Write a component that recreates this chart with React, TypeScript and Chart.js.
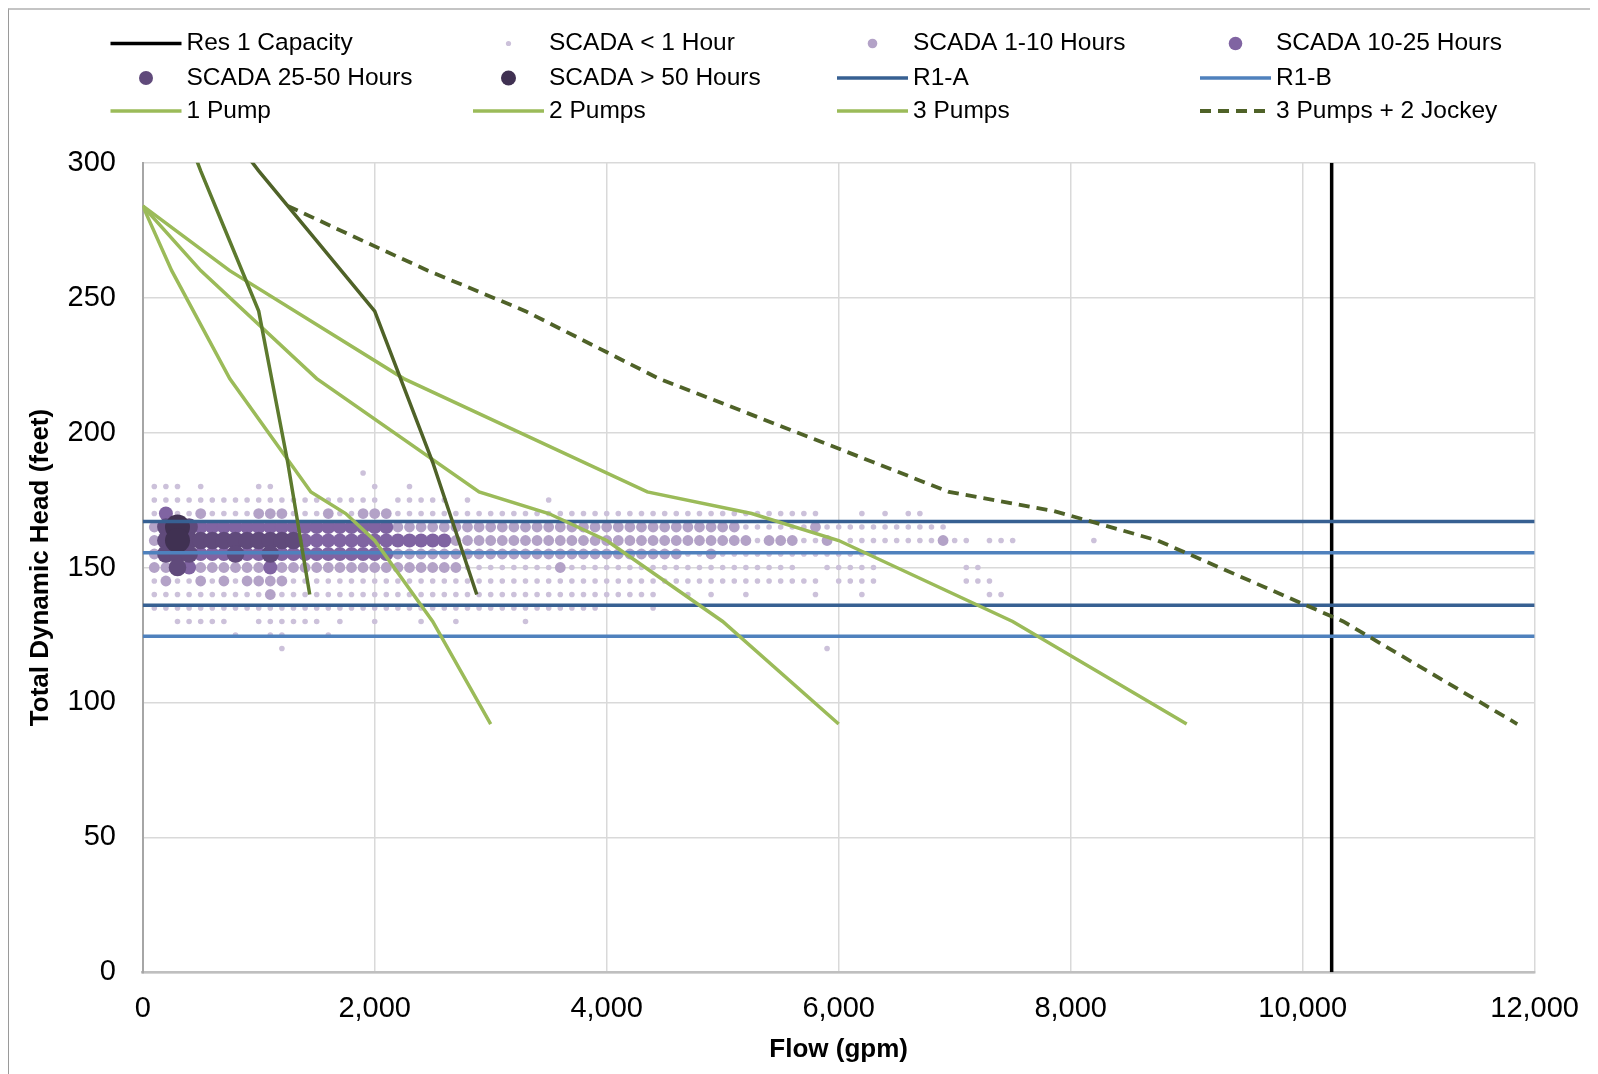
import React, { useEffect, useRef } from 'react';
import { Chart, registerables } from 'chart.js';

Chart.register(...registerables);

// ---------- DATA ----------
const flowTicks = [0, 2000, 4000, 6000, 8000, 10000, 12000];
const headTicks = [0, 50, 100, 150, 200, 250, 300];

const resCapacityFlow = 10250;
const r1aHeads = [167, 136];
const r1bHeads = [155.5, 124.5];

const pumpHead = [284, 260, 220, 178, 170, 160, 130, 92];
const pump1Flow = [0, 250, 750, 1450, 1750, 2000, 2500, 3000];
const pump2Flow = [0, 500, 1500, 2900, 3500, 4000, 5000, 6000];
const pump3Flow = [0, 750, 2250, 4350, 5250, 6000, 7500, 9000];

const jockeyHead = [325, 297, 271, 245, 189, 140];
const jockey1Flow = [250, 500, 750, 1000, 1250, 1440];
const jockey2Flow = [500, 1000, 1500, 2000, 2500, 2880];

const comboFlow = [1250, 1900, 2460, 3300, 4450, 6300, 6950, 7850, 8750, 10350, 11850];
const comboHead = [284, 271, 260, 245, 220, 189, 178, 171, 160, 130, 92];

// SCADA observations: [head (ft), flows in hundreds of gpm]
const scadaUnder1: [number, number[]][] = [
  [185, [19]],
  [180, [1, 2, 3, 5, 10, 11, 20, 23]],
  [175, [1, 2, 3, 4, 5, 6, 7, 8, 9, 10, 11, 12, 13, 14, 15, 16, 17, 18, 19, 20, 22, 23, 24, 25, 26, 28, 35]],
  [170, [1, 3, 4, 6, 7, 8, 9, 13, 14, 15, 17, 18, 22, 23, 24, 25, 26, 27, 28, 29, 30, 31, 32, 33, 34, 35, 36, 37, 38, 39, 40, 41, 42, 43, 44, 45, 46, 47, 48, 49, 50, 51, 52, 53, 54, 55, 56, 57, 58, 62, 64, 66, 67]],
  [165, [52, 53, 54, 55, 56, 57, 59, 60, 61, 62, 63, 64, 65, 66, 67, 68, 69]],
  [160, [53, 57, 58, 61, 62, 63, 64, 65, 66, 67, 68, 70, 71, 73, 74, 75, 82]],
  [155, [47, 48, 50, 51, 52, 53, 54, 55, 56, 57, 58, 59, 60, 61, 62, 63]],
  [150, [28, 29, 30, 31, 32, 33, 34, 35, 37, 38, 39, 40, 41, 42, 43, 44, 45, 46, 47, 48, 49, 50, 51, 52, 53, 54, 55, 56, 59, 60, 61, 62, 63, 71, 72]],
  [145, [1, 3, 4, 6, 8, 13, 14, 15, 16, 17, 18, 19, 20, 21, 22, 23, 24, 25, 26, 27, 28, 29, 30, 31, 32, 33, 34, 35, 36, 37, 38, 39, 40, 41, 42, 43, 44, 45, 46, 47, 48, 49, 50, 51, 52, 53, 54, 55, 56, 57, 58, 60, 61, 62, 63, 71, 72, 73]],
  [140, [1, 2, 3, 4, 5, 6, 7, 8, 9, 10, 12, 13, 14, 15, 16, 17, 18, 19, 20, 21, 22, 23, 24, 25, 26, 27, 28, 29, 30, 31, 32, 33, 34, 35, 36, 37, 38, 39, 40, 41, 42, 43, 44, 47, 49, 52, 58, 62, 73, 74]],
  [135, [1, 2, 3, 4, 5, 6, 7, 8, 9, 10, 11, 12, 13, 14, 15, 16, 17, 18, 19, 20, 21, 22, 23, 24, 25, 26, 27, 28, 29, 30, 31, 32, 33, 34, 35, 36, 37, 38, 39, 44]],
  [130, [3, 4, 5, 6, 7, 10, 11, 12, 13, 14, 15, 17, 20, 24, 27, 33]],
  [125, [8, 11, 12, 16]],
  [120, [12, 59]],
];

const scada1to10: [number, number[]][] = [
  [170, [5, 10, 11, 12, 16, 19, 20, 21]],
  [165, [1, 22, 23, 24, 25, 26, 27, 28, 29, 30, 31, 32, 33, 34, 35, 36, 37, 38, 39, 40, 41, 42, 43, 44, 45, 46, 47, 48, 49, 50, 51, 58]],
  [160, [1, 27, 28, 29, 30, 31, 32, 33, 34, 35, 36, 37, 38, 39, 40, 41, 42, 43, 44, 45, 46, 47, 48, 49, 50, 51, 52, 54, 55, 56, 59, 69]],
  [155, [1, 22, 23, 24, 25, 26, 27, 28, 29, 30, 31, 32, 33, 34, 35, 36, 37, 38, 39, 40, 41, 42, 43, 44, 45, 46, 49]],
  [150, [1, 2, 5, 6, 7, 8, 9, 10, 12, 13, 14, 15, 16, 17, 18, 19, 20, 21, 22, 23, 24, 25, 26, 27, 36]],
  [145, [2, 5, 7, 9, 10, 11, 12]],
  [140, [11]],
];

const scada10to25: [number, number[]][] = [
  [170, [2]],
  [165, [5, 6, 7, 8, 9, 10, 11, 12, 13, 14, 15, 16, 17, 18, 19, 20, 21]],
  [160, [14, 15, 16, 17, 18, 19, 20, 21, 22, 23, 24, 25, 26]],
  [155, [5, 6, 7, 9, 10, 12, 13, 14, 15, 16, 17, 18, 19, 20, 21]],
  [150, [4, 11]],
];

const scada25to50: [number, number[]][] = [
  [165, [2, 4]],
  [160, [2, 4, 5, 6, 7, 8, 9, 10, 11, 12, 13]],
  [155, [2, 3, 4, 8, 11]],
  [150, [3]],
];

const scadaOver50: [number, number[]][] = [
  [165, [3]],
  [160, [3]],
];

const legendLabels = [
  'Res 1 Capacity', 'SCADA < 1 Hour', 'SCADA 1-10 Hours', 'SCADA 10-25 Hours',
  'SCADA 25-50 Hours', 'SCADA > 50 Hours', 'R1-A', 'R1-B',
  '1 Pump', '2 Pumps', '3 Pumps', '3 Pumps + 2 Jockey',
];
const legendDatasetIndex = [0, 1, 2, 3, 4, 5, 6, 8, 10, 11, 12, 15];
const legendDotRadius = [0, 2.6, 4.8, 6.8, 7, 7.5, 0, 0, 0, 0, 0, 0];

// ---------- HELPERS ----------
const FONT = "'Liberation Sans', Arial, sans-serif";
const CANVAS_W = 1589;
const CANVAS_H = 1064;
const PLOT_LEFT = 133.7;
const PLOT_TOP = 152.7;
const PLOT_RIGHT = 1527.7;
const PLOT_BOTTOM = 962.3;

const pts = (xs: number[], ys: number[]) => xs.map((x, i) => ({ x, y: ys[i] }));
const rowsToPts = (rows: [number, number[]][]) =>
  rows.flatMap(([head, flows]) => flows.map((f) => ({ x: f * 100, y: head })));

const lineDs = (label: string, data: any[], color: string, width: number, dash: number[] = []) => ({
  label,
  data,
  showLine: true,
  borderColor: color,
  backgroundColor: color,
  borderWidth: width,
  borderDash: dash,
  pointRadius: 0,
  pointHoverRadius: 0,
  fill: false,
  tension: 0,
});

const dotDs = (label: string, data: any[], color: string, r: number) => ({
  label,
  data,
  showLine: false,
  backgroundColor: color,
  borderColor: color,
  borderWidth: 0,
  pointRadius: r,
  pointHoverRadius: r,
  pointBorderWidth: 0,
});

const legendPlugin = {
  id: 'gridLegend',
  afterDraw(chart: any) {
    const ctx = chart.ctx as CanvasRenderingContext2D;
    const colX = [177.5, 540, 904, 1267];
    const rowY = [33.5, 68, 101];
    ctx.save();
    ctx.font = `24.5px ${FONT}`;
    ctx.textBaseline = 'middle';
    ctx.textAlign = 'left';
    legendLabels.forEach((label, i) => {
      const col = i % 4;
      const row = Math.floor(i / 4);
      const tx = colX[col];
      const y = rowY[row];
      const ds = chart.data.datasets[legendDatasetIndex[i]];
      if (ds.showLine) {
        ctx.save();
        ctx.strokeStyle = ds.borderColor;
        ctx.lineWidth = ds.borderWidth;
        ctx.setLineDash(ds.borderDash || []);
        ctx.beginPath();
        ctx.moveTo(tx - 76, y);
        ctx.lineTo(tx - 5, y);
        ctx.stroke();
        ctx.restore();
      } else {
        ctx.fillStyle = ds.backgroundColor;
        ctx.beginPath();
        ctx.arc(tx - 40.5, y, legendDotRadius[i], 0, Math.PI * 2);
        ctx.fill();
      }
      ctx.fillStyle = '#000';
      ctx.fillText(label, tx, y);
    });
    ctx.restore();
  },
};

export default function App() {
  const ref = useRef<HTMLCanvasElement>(null);

  useEffect(() => {
    document.documentElement.style.overflow = 'hidden';
    const datasets: any[] = [
      lineDs('Res 1 Capacity', [{ x: resCapacityFlow, y: 0 }, { x: resCapacityFlow, y: 300 }], '#000000', 3.5),
      dotDs('SCADA < 1 Hour', rowsToPts(scadaUnder1), '#ccc1da', 2.8),
      dotDs('SCADA 1-10 Hours', rowsToPts(scada1to10), '#b3a2c7', 5.4),
      dotDs('SCADA 10-25 Hours', rowsToPts(scada10to25), '#8064a2', 7),
      dotDs('SCADA 25-50 Hours', rowsToPts(scada25to50), '#604a7b', 8.8),
      dotDs('SCADA > 50 Hours', rowsToPts(scadaOver50), '#403152', 12.5),
      lineDs('R1-A', [{ x: 0, y: r1aHeads[0] }, { x: 12000, y: r1aHeads[0] }], '#376092', 3.5),
      lineDs('R1-A lower', [{ x: 0, y: r1aHeads[1] }, { x: 12000, y: r1aHeads[1] }], '#376092', 3.5),
      lineDs('R1-B', [{ x: 0, y: r1bHeads[0] }, { x: 12000, y: r1bHeads[0] }], '#4f81bd', 3.5),
      lineDs('R1-B lower', [{ x: 0, y: r1bHeads[1] }, { x: 12000, y: r1bHeads[1] }], '#4f81bd', 3.5),
      lineDs('1 Pump', pts(pump1Flow, pumpHead), '#9bbb59', 3.5),
      lineDs('2 Pumps', pts(pump2Flow, pumpHead), '#9bbb59', 3.5),
      lineDs('3 Pumps', pts(pump3Flow, pumpHead), '#9bbb59', 3.5),
      lineDs('1 Jockey', pts(jockey1Flow, jockeyHead), '#5d7a2e', 3.5),
      lineDs('2 Jockey', pts(jockey2Flow, jockeyHead), '#4f6228', 3.5),
      lineDs('3 Pumps + 2 Jockey', pts(comboFlow, comboHead), '#4f6228', 3.8, [11, 7]),
    ];
    datasets.forEach((d, i) => (d.order = 100 - i));

    const chart = new Chart(ref.current as HTMLCanvasElement, {
      type: 'scatter',
      data: { datasets },
      options: {
        responsive: false,
        devicePixelRatio: 1,
        animation: false,
        events: [],
        layout: { padding: { left: 0, top: PLOT_TOP, right: CANVAS_W - PLOT_RIGHT, bottom: 0 } },
        plugins: { legend: { display: false }, tooltip: { enabled: false } },
        scales: {
          x: {
            type: 'linear',
            position: 'bottom',
            min: flowTicks[0],
            max: flowTicks[flowTicks.length - 1],
            afterBuildTicks: (s: any) => { s.ticks = flowTicks.map((v) => ({ value: v })); },
            afterFit: (s: any) => { s.height = CANVAS_H - PLOT_BOTTOM; },
            ticks: {
              padding: 19,
              color: '#000',
              font: { family: FONT, size: 29 },
              maxRotation: 0,
              callback: (v: any) => Number(v).toLocaleString('en-US'),
            },
            grid: { color: '#d9d9d9', lineWidth: 1.5, drawTicks: false },
            border: { color: '#bfbfbf', width: 2.5 },
            title: {
              display: true,
              text: 'Flow (gpm)',
              color: '#000',
              font: { family: FONT, size: 26, weight: 'bold' },
              padding: { top: 0, bottom: 8.8 },
            },
          },
          y: {
            type: 'linear',
            min: headTicks[0],
            max: headTicks[headTicks.length - 1],
            afterBuildTicks: (s: any) => { s.ticks = headTicks.map((v) => ({ value: v })); },
            afterFit: (s: any) => { s.width = PLOT_LEFT; },
            ticks: {
              padding: 26.7,
              color: '#000',
              font: { family: FONT, size: 29 },
            },
            grid: { color: '#d9d9d9', lineWidth: 1.5, drawTicks: false },
            border: { color: '#a6a6a6', width: 2 },
            title: {
              display: true,
              text: 'Total Dynamic Head (feet)',
              color: '#000',
              font: { family: FONT, size: 26, weight: 'bold' },
              padding: { top: 16.4, bottom: 0 },
            },
          },
        },
      } as any,
      plugins: [legendPlugin],
    });
    return () => chart.destroy();
  }, []);

  return (
    <div
      style={{
        width: CANVAS_W,
        height: CANVAS_H,
        borderLeft: '1px solid #9a9a9a',
        borderTop: '2px solid #c4c4c4',
        overflow: 'hidden',
        background: '#fff',
      }}
    >
      <canvas ref={ref} width={CANVAS_W} height={CANVAS_H} style={{ display: 'block', width: CANVAS_W, height: CANVAS_H }} />
    </div>
  );
}
